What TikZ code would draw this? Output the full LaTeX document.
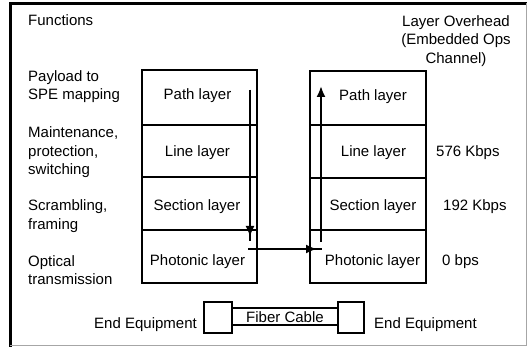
\documentclass[tikz,border=0pt]{standalone}
\usepackage{fontspec}
\setmainfont{Liberation Sans}
\usetikzlibrary{arrows.meta}
\begin{document}
\begin{tikzpicture}[x=1pt,y=-1pt,
  txt/.style={inner sep=0pt,font=\fontsize{15}{18.5}\selectfont},
  lbl/.style={txt,anchor=west,align=left},
  layerbox/.style={draw,line width=1.4pt},
  flow/.style={line width=2pt},
  tip/.style={-{Latex[length=11pt,width=9pt]}}]
\useasboundingbox (0,0) rectangle (527,347);
% frame
\draw[line width=3pt] (10,347) -- (10,3.5) -- (527,3.5);
\draw[gray!70,line width=1pt] (10,345.5) -- (526,345.5) -- (526,3.5);
% headings
\node[lbl] (fn) at (28,20) {Functions};
\node[txt,align=center] (oh) at (456,41) {Layer Overhead\\(Embedded Ops\\Channel)};
% function labels
\node[lbl] (f1) at (28,86.5) {Payload to\\SPE mapping};
\node[lbl] (f2) at (28,152.5) {Maintenance,\\protection,\\switching};
\node[lbl] (f3) at (28,216) {Scrambling,\\framing};
\node[lbl] (f4) at (28,270) {Optical\\transmission};
% left stack
\node[layerbox,minimum width=115pt,minimum height=55pt,inner sep=0pt] (lp) at (199.5,97.5) {};
\node[layerbox,minimum width=115pt,minimum height=52pt,inner sep=0pt] (ll) at (199.5,151) {};
\node[layerbox,minimum width=115pt,minimum height=53pt,inner sep=0pt] (ls) at (199.5,203.5) {};
\node[layerbox,minimum width=115pt,minimum height=53pt,inner sep=0pt] (lph) at (199.5,256.5) {};
\node[txt] at (197.5,96) {Path layer};
\node[txt] at (197.5,153) {Line layer};
\node[txt] at (197,207) {Section layer};
\node[txt] at (197.5,262) {Photonic layer};
% right stack
\node[layerbox,minimum width=116pt,minimum height=54pt,inner sep=0pt] (rp) at (368,98) {};
\node[layerbox,minimum width=116pt,minimum height=53pt,inner sep=0pt] (rl) at (368,151.5) {};
\node[layerbox,minimum width=116pt,minimum height=53pt,inner sep=0pt] (rs) at (368,204) {};
\node[layerbox,minimum width=116pt,minimum height=53pt,inner sep=0pt] (rph) at (368,256.5) {};
\node[txt] at (373,97) {Path layer};
\node[txt] at (373.5,153) {Line layer};
\node[txt] at (373,207) {Section layer};
\node[txt] at (372.5,262) {Photonic layer};
% overhead values
\node[lbl] (v1) at (436,153) {576 Kbps};
\node[lbl] (v2) at (443,207) {192 Kbps};
\node[lbl] (v3) at (442,262) {0 bps};
% flow
\coordinate (a0) at (250,90);
\coordinate (a1) at (250,237);
\coordinate (a2) at (250,241);
\coordinate (b0) at (248,249);
\coordinate (b1) at (317,249);
\coordinate (b2) at (322,249);
\coordinate (c0) at (321,242);
\coordinate (c1) at (321,86);
\draw[flow] (a0) -- (a2);
\draw[flow,tip] (a0) -- (a1);
\draw[flow] (b0) -- (b2);
\draw[flow,tip] (b0) -- (b1);
\draw[flow,tip] (c0) -- (c1);
% bottom
\node[draw,line width=1.2pt,minimum width=28pt,minimum height=31pt,inner sep=0pt] (eq1) at (218,317.5) {};
\node[draw,line width=1.2pt,minimum width=106pt,minimum height=17pt,inner sep=0pt] (fc) at (285,316.5) {};
\node[draw,line width=1.2pt,minimum width=26pt,minimum height=31pt,inner sep=0pt] (eq2) at (351,317.5) {};
\node[txt] at (285,317) {Fiber Cable};
\node[txt,anchor=east] (e1) at (197,325) {End Equipment};
\node[txt,anchor=west] (e2) at (374,325) {End Equipment};
\end{tikzpicture}
\end{document}
